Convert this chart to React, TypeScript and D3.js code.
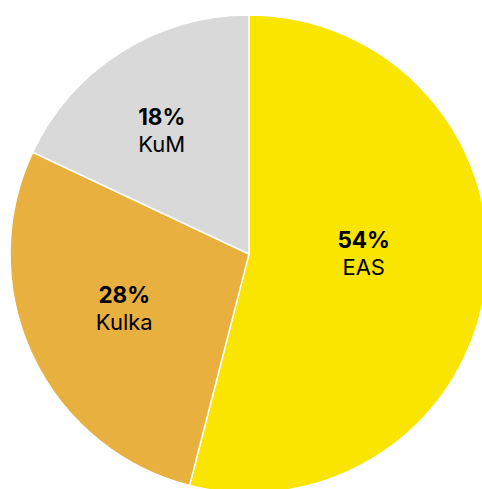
import React from "react";
import * as d3 from "d3";

const categories = ["EAS", "Kulka", "KuM"];
const values = [54, 28, 18];
const colors = ["#FAE500", "#E8B03F", "#D9D9D9"];
// label placement in polar terms (angle offset in degrees, radius fraction)
const labelAngleShift = [-7, 1.5, -3];
const labelRadiusFrac = [0.48, 0.57, 0.63];

const W = 482;
const H = 489;
const cx = 249;
const cy = 254;
const R = 239;

export default function App() {
  const pie = d3.pie<number>().sort(null).value((d) => d);
  const arcs = pie(values);
  const arc = d3.arc<d3.PieArcDatum<number>>().innerRadius(0).outerRadius(R);
  return (
    <svg
      width={W}
      height={H}
      style={{ position: "absolute", left: 0, top: 0 }}
      fontFamily="Inter, Roboto, sans-serif"
    >
      <g transform={`translate(${cx},${cy})`}>
        {arcs.map((a, i) => (
          <path key={i} d={arc(a) || ""} fill={colors[i]} stroke="#fff" strokeWidth={1.5} />
        ))}
        {arcs.map((a, i) => {
          const mid = (a.startAngle + a.endAngle) / 2 + (labelAngleShift[i] * Math.PI) / 180;
          const r = R * labelRadiusFrac[i];
          const x = r * Math.sin(mid);
          const y = -r * Math.cos(mid);
          return (
            <g key={i} transform={`translate(${x},${y})`} textAnchor="middle" fill="#000">
              <text y={-6} fontSize={22.5} fontWeight={700}>
                {values[i]}%
              </text>
              <text y={21} fontSize={22}>
                {categories[i]}
              </text>
            </g>
          );
        })}
      </g>
    </svg>
  );
}
